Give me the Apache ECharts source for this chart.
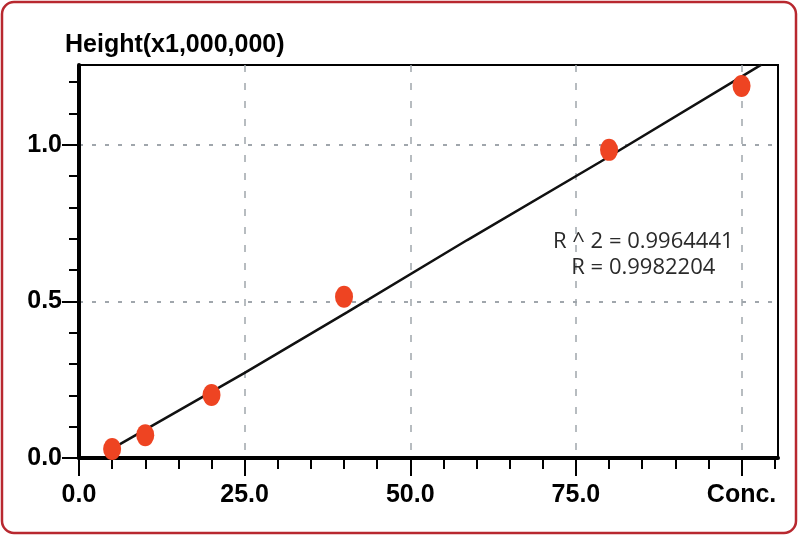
<!DOCTYPE html>
<html>
<head>
<meta charset="utf-8">
<script src="https://cdn.jsdelivr.net/npm/echarts@6/dist/echarts.min.js"></script>
<style>
html,body{margin:0;padding:0;background:#fff;}
#chart{width:799px;height:536px;}
</style>
</head>
<body>
<div id="chart"></div>
<script>
// Measured calibration points (concentration vs. height x1,000,000)
var concValues = [5, 10, 20, 40, 80, 100];
var heightValues = [0.029, 0.073, 0.201, 0.515, 0.984, 1.188];
// Regression line
var fitConc = [5, 25, 40.5, 58.6, 78.7, 103];
var fitHeight = [0.03, 0.272, 0.466, 0.696, 0.946, 1.256];
// Ticks
var xMajorTicks = [0, 25, 50, 75, 100];
var xMinorTicks = [5, 10, 15, 20, 30, 35, 40, 45, 55, 60, 65, 70, 80, 85, 90, 95, 105];
var xTickLabels = ['0.0', '25.0', '50.0', '75.0', 'Conc.'];
var yMajorTicks = [0, 0.5, 1.0];
var yMinorTicks = [0.1, 0.2, 0.3, 0.4, 0.6, 0.7, 0.8, 0.9, 1.1, 1.2];
var yTickLabels = ['0.0', '0.5', '1.0'];
var yTitle = 'Height(x1,000,000)';
var statText = ['R ^ 2 = 0.9964441', 'R = 0.9982204'];

var LBL_FONT = '"Liberation Sans", Arial, sans-serif';

var points = concValues.map(function (x, i) { return [x, heightValues[i]]; });
var fitLine = fitConc.map(function (x, i) { return [x, fitHeight[i]]; });

var X_MIN = 0, X_MAX = 105.5, Y_MIN = 0, Y_MAX = 1.255;

var chart = echarts.init(document.getElementById('chart'), null, {renderer: 'canvas'});
chart.setOption({
  animation: false,
  backgroundColor: '#ffffff',
  title: {
    text: yTitle,
    left: 60,
    top: 28,
    textStyle: {fontFamily: LBL_FONT, fontWeight: 'bold', fontSize: 25, color: '#000'}
  },
  grid: {
    left: 79, right: 21, top: 65, bottom: 78,
    show: true, borderColor: '#000', borderWidth: 2, backgroundColor: 'transparent'
  },
  xAxis: [
    {
      type: 'value', min: X_MIN, max: X_MAX, position: 'bottom',
      axisLine: {show: true, onZero: false, lineStyle: {color: '#000', width: 4}},
      axisTick: {show: true, customValues: xMajorTicks, length: 18, lineStyle: {color: '#000', width: 2}},
      axisLabel: {
        customValues: xMajorTicks, margin: 25,
        fontFamily: LBL_FONT, fontWeight: 'bold', fontSize: 25, color: '#000',
        formatter: function (v) { var i = xMajorTicks.indexOf(v); return i >= 0 ? xTickLabels[i] : ''; }
      },
      splitLine: {show: true, lineStyle: {color: '#a0a6ac', width: 1.5, type: [7, 11]}}
    },
    {
      type: 'value', min: X_MIN, max: X_MAX, position: 'bottom',
      axisLine: {show: false, onZero: false},
      axisTick: {show: true, customValues: xMinorTicks, length: 11, lineStyle: {color: '#000', width: 2}},
      axisLabel: {show: false, customValues: xMinorTicks},
      splitLine: {show: false}
    }
  ],
  yAxis: [
    {
      type: 'value', min: Y_MIN, max: Y_MAX, position: 'left',
      axisLine: {show: true, onZero: false, lineStyle: {color: '#000', width: 4}},
      axisTick: {show: true, customValues: yMajorTicks, length: 17, lineStyle: {color: '#000', width: 2}},
      axisLabel: {
        customValues: yMajorTicks, margin: 17,
        fontFamily: LBL_FONT, fontWeight: 'bold', fontSize: 25, color: '#000',
        formatter: function (v) { var i = yMajorTicks.indexOf(v); return i >= 0 ? yTickLabels[i] : ''; }
      },
      splitLine: {show: true, lineStyle: {color: '#a0a6ac', width: 2, type: [4, 9]}}
    },
    {
      type: 'value', min: Y_MIN, max: Y_MAX, position: 'left',
      axisLine: {show: false, onZero: false},
      axisTick: {show: true, customValues: yMinorTicks, length: 10, lineStyle: {color: '#000', width: 2}},
      axisLabel: {show: false, customValues: yMinorTicks},
      splitLine: {show: false}
    }
  ],
  graphic: [
    {
      type: 'rect', silent: true, z: 100,
      shape: {x: 2, y: 2, width: 794, height: 531, r: 12},
      style: {fill: 'none', stroke: '#b8282f', lineWidth: 2.5}
    },
    {
      type: 'text', left: 553, top: 229, z: 100,
      style: {
        text: statText.join('\n'), textAlign: 'center',
        fontFamily: '"Open Sans", sans-serif', fontSize: 22, lineHeight: 26, fill: '#2a2a2a'
      }
    }
  ],
  series: [
    {
      type: 'line', data: fitLine, xAxisIndex: 0, yAxisIndex: 0,
      showSymbol: false, symbol: 'none', z: 2,
      lineStyle: {color: '#111', width: 2.5}
    },
    {
      type: 'scatter', data: points, xAxisIndex: 0, yAxisIndex: 0,
      symbol: 'circle', symbolSize: [18, 22], z: 3,
      itemStyle: {color: '#ee4422', opacity: 1}
    }
  ]
});
</script>
</body>
</html>
